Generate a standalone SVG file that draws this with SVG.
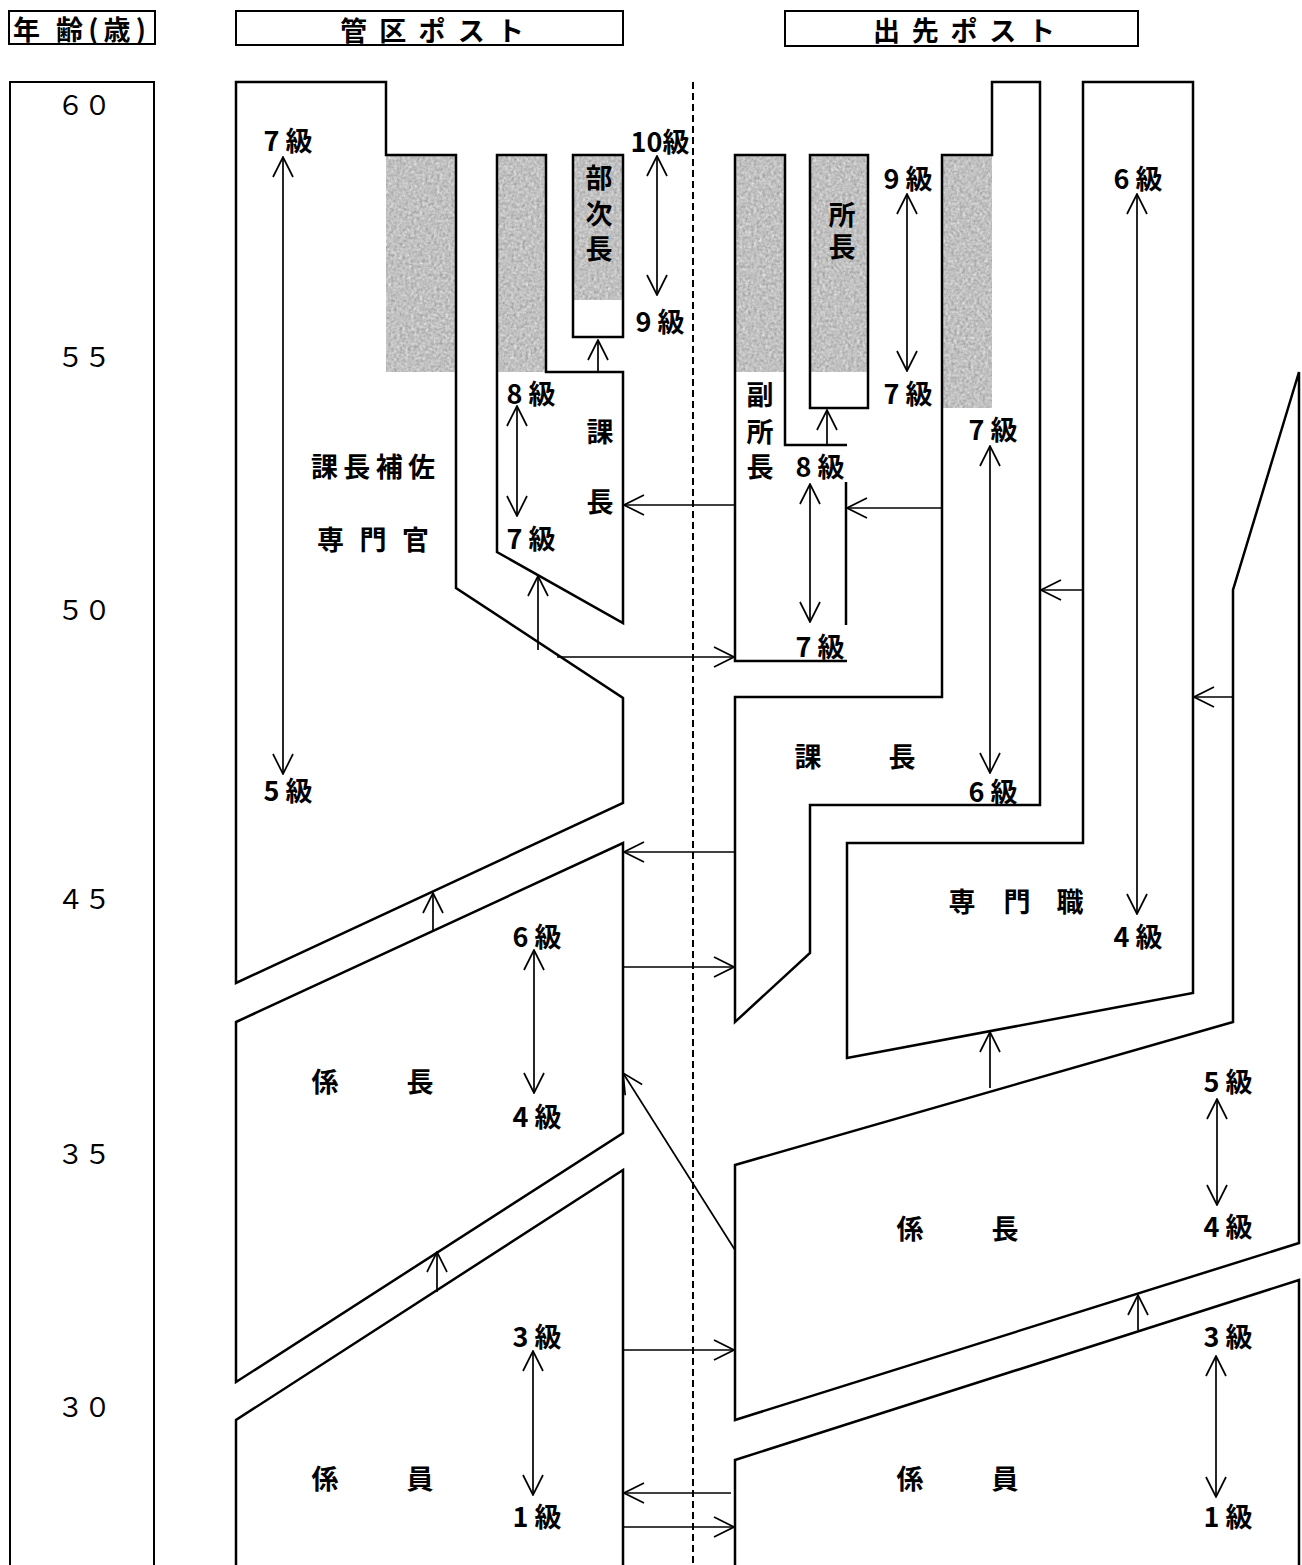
<svg xmlns="http://www.w3.org/2000/svg" width="1302" height="1565" viewBox="0 0 1302 1565">
<style>
.o{fill:none;stroke:#000;stroke-width:2.5}
.b{fill:none;stroke:#000;stroke-width:2}
.g{fill:#aaaaaa;filter:url(#tex)}
#connectors line{stroke:#000;stroke-width:1.7;fill:none}
.a{marker-end:url(#ah)}
.d{marker-start:url(#ah);marker-end:url(#ah)}
text{font-family:"Noto Sans CJK JP","Noto Sans",sans-serif;font-weight:bold;font-size:27px;text-anchor:middle;dominant-baseline:central;fill:#000}
.h{font-size:27px}
.n{font-size:27px;font-weight:normal}
</style>
<defs>
<marker id="ah" viewBox="0 0 22 22" refX="21" refY="11" markerWidth="22" markerHeight="22" orient="auto-start-reverse" markerUnits="userSpaceOnUse">
<path d="M1,1 L21,11 L1,21" fill="none" stroke="#000" stroke-width="1.7"/>
</marker>
<filter id="tex" x="0" y="0" width="1" height="1" color-interpolation-filters="sRGB">
<feTurbulence type="fractalNoise" baseFrequency="0.35" numOctaves="2" seed="5" result="n"/>
<feColorMatrix in="n" type="matrix" values="0.33 0.33 0.33 0 0  0.33 0.33 0.33 0 0  0.33 0.33 0.33 0 0  0 0 0 0 1" result="gr"/>
<feComponentTransfer in="gr" result="m">
<feFuncR type="linear" slope="0.6" intercept="0.46"/>
<feFuncG type="linear" slope="0.6" intercept="0.46"/>
<feFuncB type="linear" slope="0.6" intercept="0.46"/>
<feFuncA type="linear" slope="0" intercept="1"/>
</feComponentTransfer>
<feComposite in="m" in2="SourceGraphic" operator="in"/>
</filter>
</defs>
<rect width="1302" height="1565" fill="#fff"/>

<g id="header-age"><rect class="b" x="9" y="11" width="146" height="33"/><text class="h" style="text-anchor:start"><tspan x="13" y="28">年</tspan><tspan x="56" y="28" textLength="90" lengthAdjust="spacing">齢(歳)</tspan></text></g>
<g id="header-kanku"><rect class="b" x="236" y="11" width="387" height="34"/><text class="h" x="432" y="29" textLength="184" lengthAdjust="spacing">管区ポスト</text></g>
<g id="header-desaki"><rect class="b" x="785" y="11" width="353" height="35"/><text class="h" x="964" y="29" textLength="182" lengthAdjust="spacing">出先ポスト</text></g>

<g id="age-scale">
<rect class="b" x="10" y="82" width="144" height="1520"/>
<text class="n" x="84" y="103">６０</text>
<text class="n" x="84" y="355">５５</text>
<text class="n" x="84" y="608">５０</text>
<text class="n" x="84" y="897">４５</text>
<text class="n" x="84" y="1152">３５</text>
<text class="n" x="84" y="1405">３０</text>
</g>

<line x1="693" y1="82" x2="693" y2="1565" stroke="#000" stroke-width="2" stroke-dasharray="7,4"/>

<g id="node-kachohosa">
<rect class="g" x="386" y="155" width="70" height="217"/>
<polygon class="o" points="236,82 386,82 386,155 456,155 456,588 623,698 623,803 236,983"/>
<text x="288" y="139">7 級</text>
<text x="288" y="789">5 級</text>
<text x="373" y="465" textLength="124" lengthAdjust="spacing">課長補佐</text>
<text x="373" y="538" textLength="112" lengthAdjust="spacing">専門官</text>
</g>

<g id="node-kacho-left">
<rect class="g" x="497" y="155" width="49" height="217"/>
<polygon class="o" points="497,155 546,155 546,372 623,372 623,623 497,552"/>
<text x="531" y="392">8 級</text>
<text x="531" y="537">7 級</text>
<text x="600 600" y="430 500">課長</text>
</g>

<g id="node-bujicho">
<rect class="g" x="573" y="155" width="50" height="145"/>
<rect class="o" x="573" y="155" width="50" height="182"/>
<text x="599 599 599" y="176 212 247">部次長</text>
<text x="660" y="140">10級</text>
<text x="660" y="320">9 級</text>
</g>

<g id="node-fukushocho">
<rect class="g" x="735" y="155" width="50" height="217"/>
<polyline class="o" points="847,445 785,445 785,155 735,155 735,661 847,661"/>
<line class="o" x1="846" y1="482" x2="846" y2="625"/>
<text x="760 760 760" y="393 430 465">副所長</text>
<text x="820" y="465">8 級</text>
<text x="820" y="645">7 級</text>
</g>

<g id="node-shocho">
<rect class="g" x="810" y="155" width="58" height="217"/>
<rect class="o" x="810" y="155" width="58" height="253"/>
<text x="842 842" y="213 245">所長</text>
<text x="908" y="177">9 級</text>
<text x="908" y="392">7 級</text>
</g>

<g id="node-kacho-right">
<rect class="g" x="942" y="155" width="50" height="253"/>
<polygon class="o" points="942,155 992,155 992,82 1040,82 1040,805 810,805 810,953 735,1022 735,697 942,697"/>
<text x="993" y="428">7 級</text>
<text x="993" y="790">6 級</text>
<text x="808 902" y="755 755">課長</text>
</g>

<g id="node-senmonshoku">
<polygon class="o" points="847,843 1083,843 1083,82 1193,82 1193,993 847,1058"/>
<text x="1138" y="177">6 級</text>
<text x="1138" y="935">4 級</text>
<text x="962 1017 1070" y="900 900 900">専門職</text>
</g>

<g id="node-kakaricho-right">
<polygon class="o" points="1299,372 1233,590 1233,1022 735,1165 735,1420 1299,1243"/>
<text x="1228" y="1080">5 級</text>
<text x="1228" y="1225">4 級</text>
<text x="910 1005" y="1227 1227">係長</text>
</g>

<g id="node-kakariin-right">
<polyline class="o" points="735,1570 735,1460 1299,1280 1299,1570"/>
<text x="1228" y="1335">3 級</text>
<text x="1228" y="1515">1 級</text>
<text x="910 1005" y="1477 1477">係員</text>
</g>

<g id="node-kakaricho-left">
<polygon class="o" points="236,1022 623,843 623,1133 236,1382"/>
<text x="537" y="935">6 級</text>
<text x="537" y="1115">4 級</text>
<text x="325 420" y="1080 1080">係長</text>
</g>

<g id="node-kakariin-left">
<polyline class="o" points="236,1570 236,1420 623,1170 623,1570"/>
<text x="537" y="1335">3 級</text>
<text x="537" y="1515">1 級</text>
<text x="325 420" y="1477 1477">係員</text>
</g>

<g id="connectors">
<line class="d" x1="283" y1="157" x2="283" y2="774"/>
<line class="d" x1="657" y1="156" x2="657" y2="295"/>
<line class="a" x1="598" y1="372" x2="598" y2="340"/>
<line class="d" x1="517" y1="406" x2="517" y2="516"/>
<line class="a" x1="735" y1="505" x2="624" y2="505"/>
<line class="a" x1="538" y1="650" x2="538" y2="576"/>
<line class="a" x1="557" y1="657" x2="734" y2="657"/>
<line class="a" x1="827" y1="445" x2="827" y2="410"/>
<line class="d" x1="907" y1="194" x2="907" y2="371"/>
<line class="d" x1="810" y1="484" x2="810" y2="622"/>
<line class="a" x1="942" y1="508" x2="847" y2="508"/>
<line class="d" x1="990" y1="446" x2="990" y2="773"/>
<line class="a" x1="1083" y1="590" x2="1041" y2="590"/>
<line class="d" x1="1137" y1="194" x2="1137" y2="914"/>
<line class="a" x1="1233" y1="697" x2="1194" y2="697"/>
<line class="a" x1="735" y1="852" x2="624" y2="852"/>
<line class="a" x1="433" y1="931" x2="433" y2="893"/>
<line class="a" x1="623" y1="967" x2="734" y2="967"/>
<line class="d" x1="534" y1="950" x2="534" y2="1093"/>
<line class="a" x1="735" y1="1250" x2="623" y2="1073"/>
<line class="a" x1="990" y1="1088" x2="990" y2="1032"/>
<line class="d" x1="1217" y1="1099" x2="1217" y2="1205"/>
<line class="a" x1="437" y1="1292" x2="437" y2="1252"/>
<line class="d" x1="533" y1="1351" x2="533" y2="1495"/>
<line class="a" x1="623" y1="1350" x2="734" y2="1350"/>
<line class="a" x1="731" y1="1493" x2="624" y2="1493"/>
<line class="a" x1="623" y1="1527" x2="734" y2="1527"/>
<line class="a" x1="1138" y1="1330" x2="1138" y2="1295"/>
<line class="d" x1="1216" y1="1356" x2="1216" y2="1497"/>
</g>
</svg>
